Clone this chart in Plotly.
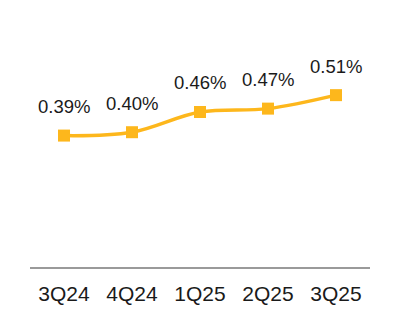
import plotly.graph_objects as go

quarters = ["3Q24", "4Q24", "1Q25", "2Q25", "3Q25"]
values = [0.39, 0.40, 0.46, 0.47, 0.51]
labels = ["0.39%", "0.40%", "0.46%", "0.47%", "0.51%"]

color = "#FDB71C"
font_family = "Liberation Sans, Arial, Helvetica, sans-serif"

fig = go.Figure()
fig.add_trace(go.Scatter(
    x=quarters, y=values,
    mode="lines+markers",
    line=dict(color=color, width=3.5, shape="spline", smoothing=1.0),
    marker=dict(symbol="square", size=12, color=color),
    hoverinfo="skip",
))

for q, v, t in zip(quarters, values, labels):
    fig.add_annotation(x=q, y=v, text=t, showarrow=False, yshift=29,
                       font=dict(size=18.5, color="#1a1a1a", family=font_family))

fig.update_layout(
    width=400, height=336,
    margin=dict(l=30, r=30, t=20, b=69),
    paper_bgcolor="white", plot_bgcolor="white",
    showlegend=False,
    xaxis=dict(type="category", range=[-0.5, 4.5], showgrid=False, zeroline=False,
               showline=True, linecolor="#9a9a9a", linewidth=2, ticks="",
               tickfont=dict(size=21, color="#1a1a1a", family=font_family),
               ticklabelstandoff=7),
    yaxis=dict(range=[0, 0.733], visible=False, showgrid=False, zeroline=False),
)

fig.write_html("out.html")
